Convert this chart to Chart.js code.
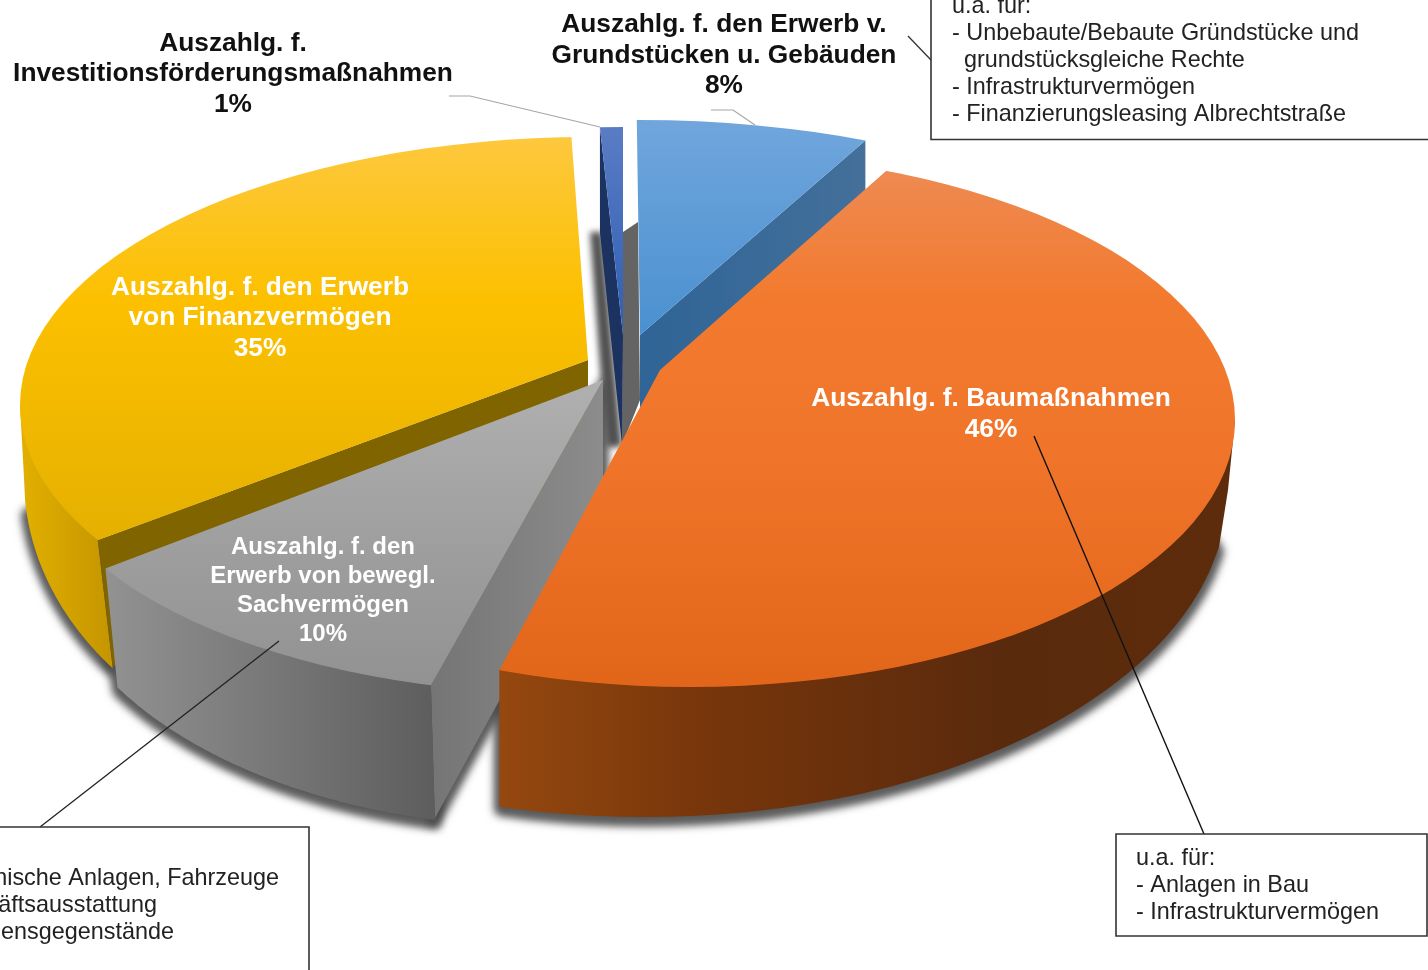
<!DOCTYPE html>
<html lang="de">
<head>
<meta charset="utf-8">
<style>html,body{margin:0;padding:0;background:#fff;overflow:hidden}canvas{display:block}</style>
<script src="https://cdn.jsdelivr.net/npm/chart.js@4"></script>
</head>
<body>
<canvas id="c" width="1428" height="970"></canvas>
<script>
const categories = [
  "Auszahlg. f. den Erwerb v. Grundstücken u. Gebäuden",
  "Auszahlg. f. Baumaßnahmen",
  "Auszahlg. f. den Erwerb von bewegl. Sachvermögen",
  "Auszahlg. f. den Erwerb von Finanzvermögen",
  "Auszahlg. f. Investitionsförderungsmaßnahmen"
];
const shares = [8, 46, 10, 35, 1];
const baseColors = ["#5B9BD5", "#ED7D31", "#A5A5A5", "#FFC000", "#4472C4"];

/* Per-slice perspective styling: apex, top ellipse, bottom ellipse, turn, face gradient */
const views = [
  {ax:640,ay:335,cx:640,cy:400,rx:600,ry:280,turn:-0.4,
   stops:[[120,"#70A6DC"],[335,"#4A90D0"]]},
  {ax:660,ay:370,cx:690,cy:420,rx:545,ry:267,turn:0.3,bcx:645,bcy:490,brx:583,bry:327,
   stops:[[170,"#EE8A52"],[300,"#F27A2E"],[450,"#F0752A"],[685,"#E2661A"]]},
  {ax:603,ay:380,cx:577,cy:444.5,rx:543,ry:250,turn:0.15,bcx:545,bcy:537,brx:500,bry:290,
   stops:[[380,"#B0B0B0"],[570,"#9C9C9C"],[685,"#929292"]]},
  {ax:588,ay:360,cx:590,cy:405,rx:570,ry:268,turn:1.6,bcx:400,bcy:478,brx:376,bry:295,
   stops:[[137,"#FDC83E"],[300,"#FCC000"],[540,"#E5B000"]]},
  {ax:623,ay:335,cx:623,cy:399,rx:480,ry:272,turn:0,
   stops:[[127,"#5A7CC4"],[335,"#2F5EB4"]]}
];
const K = 2.6;

function edgePoint(el, v, angle){
  const a = angle + v.turn*Math.PI/180;
  const dx = Math.cos(a), dy = Math.sin(a);
  const px = (v.ax-v.cx)/v.rx, py = (v.ay-v.cy)/v.ry;
  const b = px*dx+py*dy;
  const t = -b+Math.sqrt(b*b-(px*px+py*py)+1);
  return {x:v.cx+v.rx*(px+t*dx), y:v.cy+v.ry*(py+t*dy)};
}
function trace(ctx, pts){
  ctx.beginPath();
  pts.forEach((p,i)=> i?ctx.lineTo(p.x,p.y):ctx.moveTo(p.x,p.y));
  ctx.closePath();
}
function poly(ctx, pts, fill){
  trace(ctx,pts);
  ctx.fillStyle=fill;
  ctx.fill();
}
function hGrad(ctx, x0, x1, stops){
  const g = ctx.createLinearGradient(x0,0,x1,0);
  stops.forEach(s=>g.addColorStop(s[0],s[1]));
  return g;
}
function outerWall(v, a, x0, x1, b){
  const pts=[a];
  const n=80;
  for(let i=0;i<=n;i++){
    const x=x0+(x1-x0)*i/n;
    const q=Math.max(0,1-Math.pow((x-v.bcx)/v.brx,2));
    pts.push({x, y:v.bcy+v.bry*Math.sqrt(q)});
  }
  pts.push(b);
  return pts;
}
function drawFace(ctx, el, v, R){
  ctx.save();
  ctx.beginPath();
  ctx.ellipse(v.cx,v.cy,v.rx,v.ry,0,0,Math.PI*2);
  ctx.clip();
  ctx.translate(v.ax,v.ay);
  ctx.scale(v.rx*K/R, v.ry*K/R);
  ctx.rotate(v.turn*Math.PI/180);
  ctx.translate(-el.x,-el.y);
  const inv = ctx.getTransform().inverse();
  const y0=v.stops[0][0], y1=v.stops[v.stops.length-1][0];
  const p0=inv.transformPoint(new DOMPoint(v.ax,y0)), p1=inv.transformPoint(new DOMPoint(v.ax,y1));
  const g=ctx.createLinearGradient(p0.x,p0.y,p1.x,p1.y);
  v.stops.forEach(s=>g.addColorStop((s[0]-y0)/(y1-y0),s[1]));
  const saved=el.options;
  const o=Object.create(saved); o.backgroundColor=g; o.borderWidth=0;
  el.options=o;
  el.draw(ctx);
  el.options=saved;
  ctx.restore();
}

const pie3d = {
  id:'pie3d',
  beforeDatasetsDraw(chart){
    const ctx=chart.ctx, els=chart.getDatasetMeta(0).data;
    const R=els[0].outerRadius;
    const [blue,orange,grey,yellow,sliver]=els;
    const [vB,vO,vG,vY,vS]=views;

    const oEnd=edgePoint(orange,vO,orange.endAngle);
    const gStart=edgePoint(grey,vG,grey.startAngle), gEnd=edgePoint(grey,vG,grey.endAngle);
    const yStart=edgePoint(yellow,vY,yellow.startAngle);
    const bEnd=edgePoint(blue,vB,blue.endAngle);
    const sStart=edgePoint(sliver,vS,sliver.startAngle);

    const oWall=outerWall(vO,oEnd,oEnd.x,vO.bcx+vO.brx,{x:vO.cx+vO.rx,y:vO.cy});
    const gWall=outerWall(vG,gEnd,gEnd.x+12,gStart.x+4,gStart);
    const yWall=outerWall(vY,{x:vY.cx-vY.rx,y:vY.cy},vY.bcx-vY.brx,yStart.x+15,yStart);
    const gRad=[{x:vG.ax,y:vG.ay},gStart,{x:gStart.x+4,y:gStart.y+133},{x:vG.ax,y:vG.ay+131}];

    /* soft drop shadow pass: upper wall tips are pulled in so nothing pokes out beside the faces */
    const oShadow=oWall.slice(0,-1).concat([{x:vO.cx+vO.rx-40,y:vO.cy+90}]);
    const yShadow=[{x:vY.cx-vY.rx+40,y:vY.cy+90}].concat(yWall.slice(1));
    const oTrim=oShadow.filter(p=>!(p.x>vO.bcx+vO.brx-6&&p.y<vO.bcy+30));
    const yTrim=yShadow.filter(p=>!(p.x<vY.bcx-vY.brx+5&&p.y<vY.bcy+30));
    ctx.save();
    ctx.filter='blur(5px)';
    ctx.translate(0,4);
    ctx.lineJoin='round';
    ctx.lineWidth=9;
    ctx.strokeStyle='#484848';
    [oTrim,gWall,yTrim,gRad].forEach(p=>{poly(ctx,p,'#484848');ctx.stroke();});
    ctx.restore();
    ctx.save();
    ctx.filter='blur(3px)';
    poly(ctx,[{x:590,y:232},{x:602,y:232},{x:622,y:447},{x:606,y:447}],'#505050');
    ctx.restore();

    /* back wall + sliver */
    poly(ctx,[{x:vS.ax,y:vS.ay-103},{x:vB.ax-2,y:vB.ay-113},{x:vB.ax,y:vB.ay+65},{x:vS.ax-1,y:vS.ay+110}],'#646464');
    poly(ctx,[sStart,{x:vS.ax,y:vS.ay},{x:vS.ax-1,y:vS.ay+110},{x:sStart.x,y:sStart.y+105}],'#1C3260');
    drawFace(ctx,sliver,vS,R);

    /* light-blue slice */
    poly(ctx,[bEnd,{x:bEnd.x,y:bEnd.y+50},{x:vB.ax,y:vB.ay+78},{x:vB.ax,y:vB.ay}],
      hGrad(ctx,vB.ax,bEnd.x,[[0,'#2F6496'],[1,'#44709A']]));
    drawFace(ctx,blue,vB,R);

    /* yellow slice */
    poly(ctx,yWall,hGrad(ctx,vY.cx-vY.rx,yStart.x+15,[[0,'#E2B000'],[1,'#C49500']]));
    poly(ctx,[yStart,{x:yStart.x+15,y:yStart.y+126},{x:vY.ax,y:vY.ay+140},{x:vY.ax,y:vY.ay}],'#806400');
    drawFace(ctx,yellow,vY,R);

    /* grey slice */
    poly(ctx,gRad,hGrad(ctx,gStart.x,vG.ax,[[0,'#757575'],[1,'#8C8C8C']]));
    poly(ctx,gWall,hGrad(ctx,gEnd.x,gStart.x,[[0,'#929292'],[1,'#5E5E5E']]));
    drawFace(ctx,grey,vG,R);

    /* orange slice */
    poly(ctx,oWall,hGrad(ctx,oEnd.x,vO.cx+vO.rx,[[0,'#95480F'],[0.27,'#78360B'],[0.68,'#5A2A0D'],[1,'#5C2C0C']]));
    drawFace(ctx,orange,vO,R);
    return false;
  },
  afterDraw(chart){
    const ctx=chart.ctx;
    ctx.save();
    const line=(pts,color,w)=>{ctx.beginPath();pts.forEach((p,i)=>i?ctx.lineTo(p[0],p[1]):ctx.moveTo(p[0],p[1]));ctx.strokeStyle=color;ctx.lineWidth=w;ctx.stroke();};
    /* leader lines */
    line([[449,96],[470,96],[600,127]],'#A6A6A6',1.2);
    line([[711,110],[733,110],[755,125]],'#A6A6A6',1.2);
    line([[908,36],[931,60]],'#333',1.3);
    line([[1034,436],[1204,834]],'#111',1.4);
    line([[279,641],[40,827]],'#222',1.3);
    /* note boxes */
    ctx.fillStyle='#fff';
    line([[931,0],[931,139.5],[1428,139.5]],'#333',1.6);
    line([[0,827],[309,827],[309,970]],'#333',1.6);
    ctx.beginPath();ctx.rect(1116,834,311,102);ctx.fillRect(1116,834,311,102);ctx.strokeStyle='#333';ctx.lineWidth=1.6;ctx.stroke();

    ctx.textBaseline='middle';
    const text=(s,x,y,font,color,align)=>{ctx.font=font;ctx.fillStyle=color;ctx.textAlign=align||'center';ctx.fillText(s,x,y);};
    const B='bold 26.3px "Liberation Sans", Arial, sans-serif';
    const G='bold 24px "Liberation Sans", Arial, sans-serif';
    const N='23.4px "Liberation Sans", Arial, sans-serif';
    const pct=i=>shares[i]+'%';
    const K1='#111';
    text('Auszahlg. f. den Erwerb v.',724,25,B,K1);
    text('Grundstücken u. Gebäuden',724,55.5,B,K1);
    text(pct(0),724,86,B,K1);
    text('Auszahlg. f.',233,43.5,B,K1);
    text('Investitionsförderungsmaßnahmen',233,74,B,K1);
    text(pct(4),233,104.5,B,K1);
    text('Auszahlg. f. den Erwerb',260,288,B,'#fff');
    text('von Finanzvermögen',260,318,B,'#fff');
    text(pct(3),260,349,B,'#fff');
    text('Auszahlg. f. Baumaßnahmen',991,399,B,'#fff');
    text(pct(1),991,429.5,B,'#fff');
    text('Auszahlg. f. den',323,547.5,G,'#fff');
    text('Erwerb von bewegl.',323,576.5,G,'#fff');
    text('Sachvermögen',323,605.5,G,'#fff');
    text(pct(2),323,634.5,G,'#fff');

    const D='#222';
    text('u.a. für:',952,7,N,D,'left');
    text('- Unbebaute/Bebaute Gründstücke und',952,33.5,N,D,'left');
    text('grundstücksgleiche Rechte',964,60.5,N,D,'left');
    text('- Infrastrukturvermögen',952,87.5,N,D,'left');
    text('- Finanzierungsleasing Albrechtstraße',952,114.5,N,D,'left');
    text('u.a. für:',1136,858.5,N,D,'left');
    text('- Anlagen in Bau',1136,885.5,N,D,'left');
    text('- Infrastrukturvermögen',1136,912.5,N,D,'left');
    text('- Technische Anlagen, Fahrzeuge',279,879,N,D,'right');
    text('- Geschäftsausstattung',157,906,N,D,'right');
    text('- Sonstige Vermögensgegenstände',174,933,N,D,'right');
    ctx.restore();
  }
};

new Chart(document.getElementById('c'),{
  type:'pie',
  data:{labels:categories,datasets:[{data:shares,backgroundColor:baseColors,borderWidth:0}]},
  options:{
    responsive:false,animation:false,
    layout:{padding:0},
    plugins:{legend:{display:false},tooltip:{enabled:false},title:{display:false}}
  },
  plugins:[pie3d]
});
</script>
</body>
</html>
